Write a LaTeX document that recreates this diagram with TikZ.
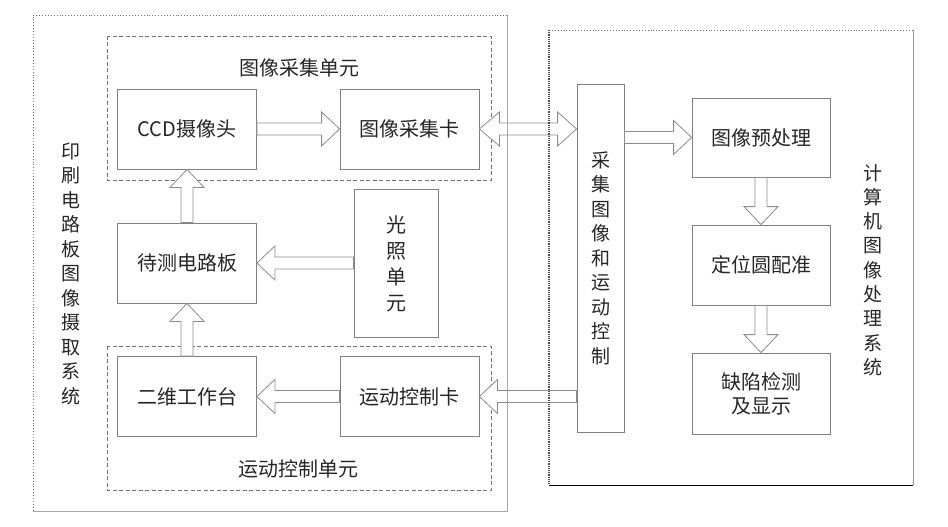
\documentclass[tikz,border=0pt]{standalone}
\usepackage{fontspec}
\setmainfont{Noto Sans CJK SC}
\usetikzlibrary{calc}

\newcommand{\blkarrow}[2]{%
	\coordinate (hb) at ($(#2)!18pt!(#1)$);
	\draw[blk] ($(#1)!6pt!90:(#2)$) -- ($(hb)!6pt!-90:(#1)$) -- ($(hb)!17pt!-90:(#1)$) -- (#2)
		-- ($(hb)!17pt!90:(#1)$) -- ($(hb)!6pt!90:(#1)$) -- ($(#1)!6pt!-90:(#2)$) -- cycle;
}
\newcommand{\dblarrow}[2]{%
	\coordinate (hb) at ($(#2)!19pt!(#1)$);
	\coordinate (ha) at ($(#1)!20pt!(#2)$);
	\draw[blk] (#1) -- ($(ha)!17pt!90:(#2)$) -- ($(ha)!6pt!90:(#2)$) -- ($(hb)!6pt!-90:(#1)$) -- ($(hb)!17pt!-90:(#1)$) -- (#2)
		-- ($(hb)!17pt!90:(#1)$) -- ($(hb)!6pt!90:(#1)$) -- ($(ha)!6pt!-90:(#2)$) -- ($(ha)!17pt!-90:(#2)$) -- cycle;
}

\begin{document}
\begin{tikzpicture}[x=1pt, y=-1pt,
	box/.style={draw=black!50, line width=0.8pt, text=black!85, inner sep=0pt,
		minimum width=139pt, minimum height=80pt, font=\fontsize{20pt}{24pt}\selectfont},
	unit/.style={draw=black!55, line width=0.7pt, dash pattern=on 4pt off 2.5pt},
	blk/.style={draw=black!45, line width=0.8pt, fill=white, line join=miter},
	vlabel/.style={align=center, text=black!85, inner sep=0pt, font=\fontsize{19pt}{24.5pt}\selectfont}]
	\useasboundingbox (0,0) rectangle (948,527);

	\draw[unit] (107,36) rectangle (491,180);
	\draw[unit] (107,346) rectangle (491,490);
	\node[text=black!85, font=\fontsize{20pt}{24pt}\selectfont] (acqlbl) at (299,68) {图像采集单元};
	\node[text=black!85, font=\fontsize{20pt}{24pt}\selectfont] (motlbl) at (298,469) {运动控制单元};

	\node[box] (ccd) at (187,129) {CCD摄像头};
	\node[box] (card) at (409.5,129) {图像采集卡};
	\node[box] (board) at (187,263) {待测电路板};
	\node[box, minimum width=84pt, minimum height=148pt] (light) at (396,263) {};
	\node[vlabel, font=\fontsize{20pt}{26pt}\selectfont] (lighttxt) at (396,264) {光\\照\\单\\元};
	\node[box] (stage) at (187,396.5) {二维工作台};
	\node[box] (mcard) at (409.5,396.5) {运动控制卡};

	\node[box, minimum width=47pt, minimum height=348pt] (cap) at (600.5,258) {};
	\node[vlabel] (captxt) at (600.5,258) {采\\集\\图\\像\\和\\运\\动\\控\\制};

	\node[box, minimum width=138pt, minimum height=79pt] (pre) at (761,137.5) {图像预处理};
	\node[box, minimum width=138pt] (reg) at (761,265) {定位圆配准};
	\node[box, minimum width=138pt, minimum height=81pt, align=center] (det) at (761,393.5) {缺陷检测\\及显示};

	\coordinate (capin) at (cap.west |- card.east);
	\coordinate (capout) at (cap.east |- pre.west);
	\coordinate (capmot) at (cap.west |- mcard.east);
	\coordinate (lightout) at (light.west |- board.east);

	\blkarrow{ccd.east}{card.west}
	\dblarrow{card.east}{capin}
	\blkarrow{capout}{pre.west}
	\blkarrow{pre.south}{reg.north}
	\blkarrow{reg.south}{det.north}
	\blkarrow{board.north}{ccd.south}
	\blkarrow{stage.north}{board.south}
	\blkarrow{lightout}{board.east}
	\blkarrow{capmot}{mcard.east}
	\blkarrow{mcard.west}{stage.east}

	\draw[black!55, line width=0.9pt, dotted] (507,15) -- (33,15) -- (33,511);
	\draw[black!35, line width=0.7pt] (507,15) -- (507,511) -- (33,511);
	\draw[black!55, line width=0.9pt, dotted] (549,30) -- (913,30);
	\draw[black!70, line width=1.2pt, densely dotted] (549,30) -- (549,485);
	\draw[black!40, line width=0.7pt] (913,30) -- (913,485);
	\draw[black, line width=0.9pt] (549,485) -- (913,485);

	\node[vlabel] (pcblbl) at (71,273.5) {印\\刷\\电\\路\\板\\图\\像\\摄\\取\\系\\统};
	\node[vlabel, font=\fontsize{19pt}{24.3pt}\selectfont] (cpulbl) at (873,270) {计\\算\\机\\图\\像\\处\\理\\系\\统};
\end{tikzpicture}
\end{document}
